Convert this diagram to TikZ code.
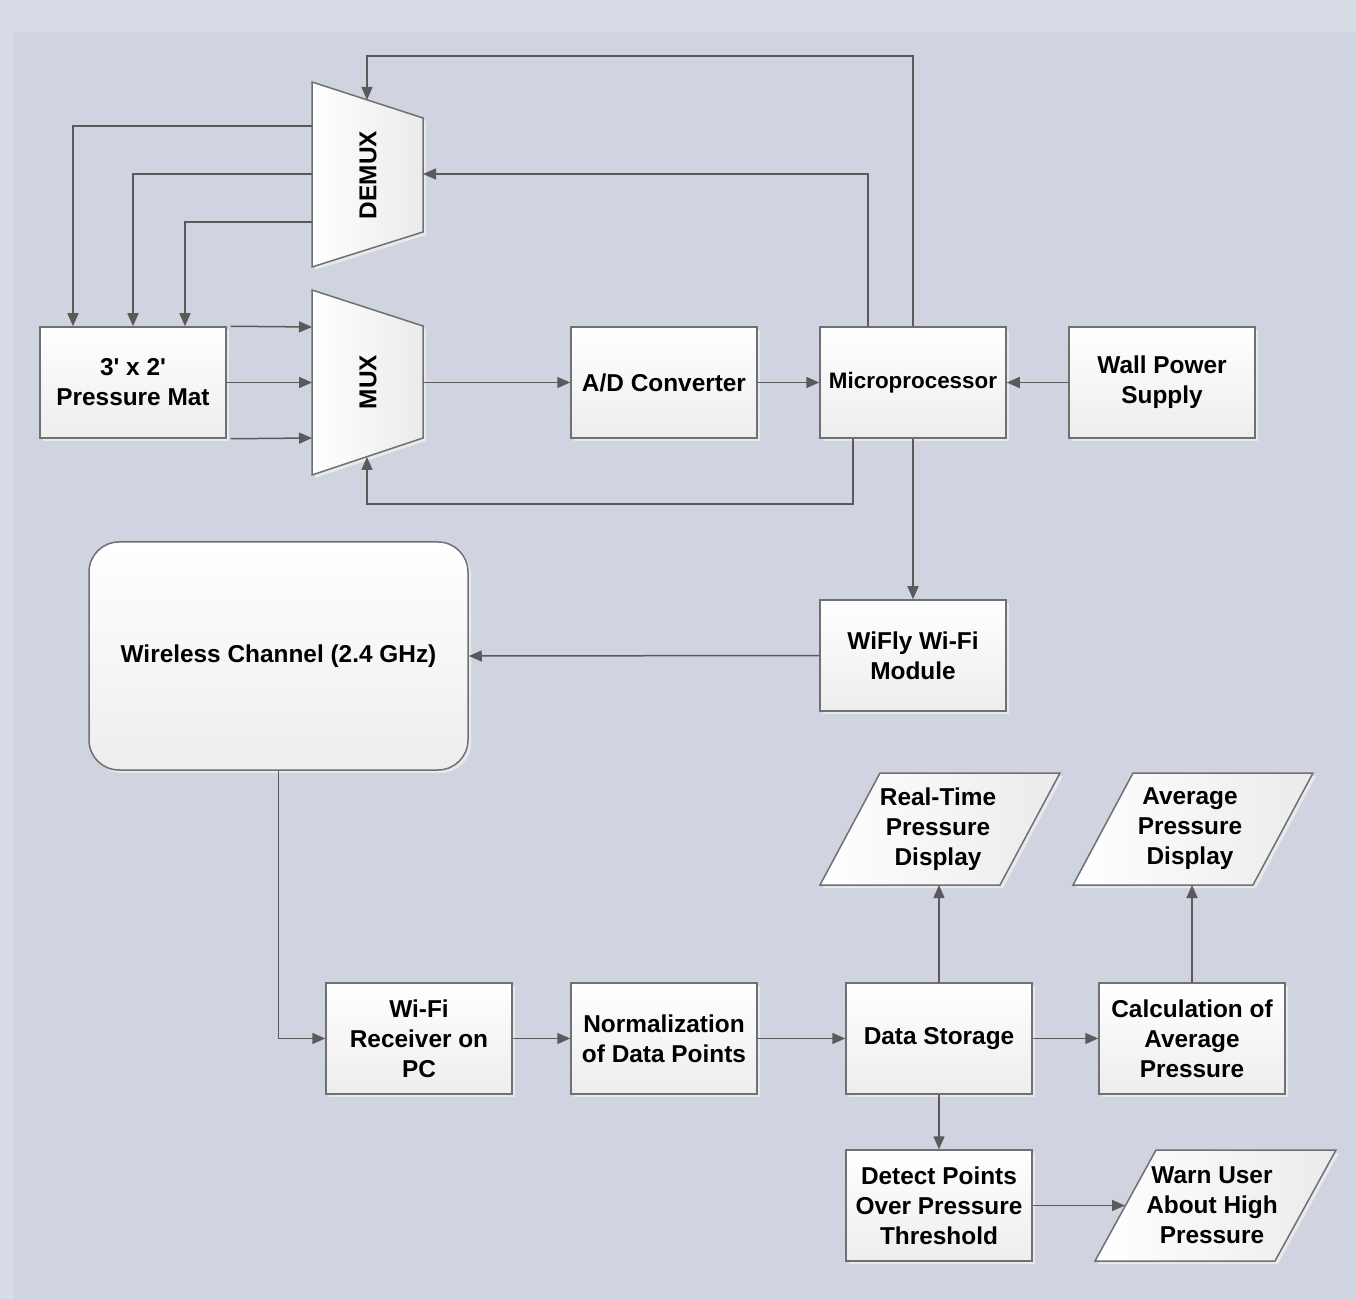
\documentclass[tikz,border=0pt]{standalone}
\usepackage{fontspec}
\setmainfont{Liberation Sans}
\usetikzlibrary{arrows.meta,shadows}
\definecolor{bgout}{HTML}{D8DCE7}
\definecolor{bgin}{HTML}{CFD4E0}
\definecolor{lnc}{HTML}{5A5A5A}
\definecolor{bdc}{HTML}{707070}
\tikzset{
  shd/.style={drop shadow={shadow xshift=1.5pt,shadow yshift=-1.5pt,fill=white,opacity=0.5}},
  txt/.style={align=center,font=\bfseries\fontsize{12.2}{15}\selectfont,inner sep=0pt},
  blk/.style={txt,draw=bdc,line width=0.75pt,top color=white,bottom color=black!7,
              minimum width=93pt,minimum height=55.5pt,shd},
  shp/.style={draw=bdc,line width=0.75pt,left color=white,right color=black!8,shd},
  arr/.style={draw=lnc,line width=0.75pt,-{Triangle[length=6.5pt,width=5.5pt]}},
  ln/.style={draw=lnc,line width=0.75pt}
}
\begin{document}
\begin{tikzpicture}[x=0.5pt,y=-0.5pt]
\useasboundingbox (0,0) rectangle (1356,1299);
\fill[bgout] (0,0) rectangle (1356,1299);
\fill[bgin] (14,32) rectangle (1356,1299);

% DEMUX and MUX trapezoids
\path[shp] (312,82) -- (423,118) -- (423,232) -- (312,267) -- cycle;
\node[txt,rotate=90] (dmx) at (368,175) {DEMUX};
\path[shp] (312,290) -- (423,326) -- (423,438) -- (312,475) -- cycle;
\node[txt,rotate=90] (mux) at (368,382) {MUX};
\coordinate (dmT) at (367,100);
\coordinate (dmR) at (423,174);
\coordinate (dmL1) at (312,126);
\coordinate (dmL2) at (312,174);
\coordinate (dmL3) at (312,222);
\coordinate (mxL1) at (312,327);
\coordinate (mxL2) at (312,382.5);
\coordinate (mxL3) at (312,438);
\coordinate (mxR) at (423,382.5);
\coordinate (mxB) at (367,457);

% rectangles
\node[blk] (mat) at (133,382.5) {3\textquotesingle{} x 2\textquotesingle\\Pressure Mat};
\node[blk] (ad) at (664,382.5) {A/D Converter};
\node[blk] (mp) at (913,382.5) {\fontsize{11.2}{14}\selectfont Microprocessor};
\node[blk] (wps) at (1162,382.5) {Wall Power\\Supply};
\node[blk] (wifly) at (913,655.5) {WiFly Wi-Fi\\Module};
\node[blk,minimum width=189.5pt,minimum height=114pt,rounded corners=15pt] (wc) at (278.5,656) {Wireless Channel (2.4 GHz)};
\node[blk] (rx) at (419,1038.5) {Wi-Fi\\Receiver on\\PC};
\node[blk] (norm) at (664,1038.5) {Normalization\\of Data Points};
\node[blk] (ds) at (939,1038.5) {Data Storage};
\node[blk] (calc) at (1192,1038.5) {Calculation of\\Average\\Pressure};
\node[blk] (det) at (939,1205.5) {Detect Points\\Over Pressure\\Threshold};

% parallelograms
\path[shp] (820,885) -- (1000,885) -- (1060,773) -- (880,773) -- cycle;
\node[txt] (rtd) at (938,829) {Real-Time\\Pressure\\Display};
\path[shp] (1073,885) -- (1253,885) -- (1313,773) -- (1133,773) -- cycle;
\node[txt] (avg) at (1190,829) {Average\\Pressure\\Display};
\path[shp] (1095,1261) -- (1275,1261) -- (1336,1150) -- (1156,1150) -- cycle;
\node[txt] (warn) at (1212,1205.5) {Warn User\\About High\\Pressure};
\coordinate (rtdB) at (939,885);
\coordinate (avgB) at (1192,885);
\coordinate (warnL) at (1125,1205.5);

% connectors
\coordinate (mpt2) at ([xshift=-22.5pt]mp.north);
\coordinate (mpb2) at ([xshift=-30pt]mp.south);
\draw[arr] (mp.north) -- (mp.north |- 0,56) -| (dmT);
\draw[arr] (mpt2) |- (dmR);
\draw[arr] (dmL1) -| (mat.north -| 73,0);
\draw[arr] (dmL2) -| (mat.north);
\draw[arr] (dmL3) -| (mat.north -| 185,0);
\draw[arr] ([xshift=2pt]mat.north east) -- (mxL1);
\draw[arr] (mat.east) -- (mxL2);
\draw[arr] ([xshift=2pt]mat.south east) -- (mxL3);
\draw[arr] (mxR) -- (ad.west);
\draw[arr] (ad.east) -- (mp.west);
\draw[arr] (wps.west) -- (mp.east);
\draw[arr] (mpb2) -- (mpb2 |- 0,504) -| (mxB);
\draw[arr] (mp.south) -- (wifly.north);
\draw[arr] (wifly.west) -- (wc.east);
\draw[arr] (wc.south) |- (rx.west);
\draw[arr] (rx.east) -- (norm.west);
\draw[arr] (norm.east) -- (ds.west);
\draw[arr] (ds.east) -- (calc.west);
\draw[arr] (ds.north) -- (rtdB);
\draw[arr] (calc.north) -- (avgB);
\draw[arr] (ds.south) -- (det.north);
\draw[arr] (det.east) -- (warnL);
\end{tikzpicture}
\end{document}
